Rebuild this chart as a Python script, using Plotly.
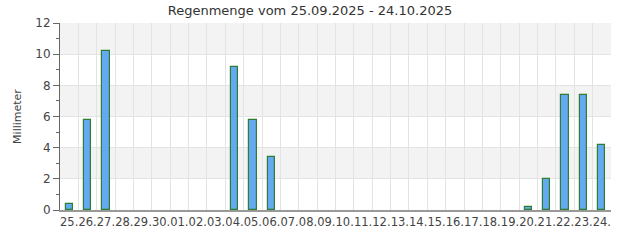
import plotly.graph_objects as go

days = ["25.", "26.", "27.", "28.", "29.", "30.", "01.", "02.", "03.", "04.",
        "05.", "06.", "07.", "08.", "09.", "10.", "11.", "12.", "13.", "14.",
        "15.", "16.", "17.", "18.", "19.", "20.", "21.", "22.", "23.", "24."]
rain_mm = [0.4, 5.8, 10.2, 0, 0, 0, 0, 0, 0, 9.2,
           5.8, 3.4, 0, 0, 0, 0, 0, 0, 0, 0,
           0, 0, 0, 0, 0, 0.2, 2.0, 7.4, 7.4, 4.2]
y_ticks = [0, 2, 4, 6, 8, 10, 12]
title_text = "Regenmenge vom 25.09.2025 - 24.10.2025"
y_title = "Millimeter"

FONT = "DejaVu Sans"

# zero-rain days draw no bar at all
bar_values = [v if v > 0 else None for v in rain_mm]

fig = go.Figure()
fig.add_trace(go.Bar(
    x=days, y=bar_values, width=0.4,
    marker=dict(color="#64aaf2", line=dict(color="#2e7d32", width=1.2)),
    hoverinfo="x+y", showlegend=False,
))

# alternating horizontal bands
shapes = []
for i in range(len(y_ticks) - 1):
    if i % 2 == 1:
        shapes.append(dict(type="rect", xref="paper", yref="y", x0=0, x1=1,
                           y0=y_ticks[i], y1=y_ticks[i + 1],
                           fillcolor="#f3f3f3", line=dict(width=0), layer="below"))

fig.update_layout(
    width=620, height=250,
    margin=dict(l=60, r=9, t=23, b=40),
    paper_bgcolor="white", plot_bgcolor="white",
    font=dict(family=FONT, size=12, color="#444"),
    title=dict(text=title_text, x=0.5, xanchor="center", y=0.96, yanchor="middle",
               font=dict(family=FONT, size=13, color="#333")),
    shapes=shapes,
    bargap=0,
    xaxis=dict(
        type="category", tickson="boundaries", showgrid=True, gridcolor="#e3e3e3",
        gridwidth=1, ticks="outside", ticklen=3, tickcolor="rgba(0,0,0,0)",
        showline=True, linecolor="#999", linewidth=1.5,
        tickangle=0, tickfont=dict(size=11.5, color="#444"), fixedrange=True,
    ),
    yaxis=dict(
        range=[0, 12], tickvals=y_ticks, showgrid=True, gridcolor="#e3e3e3",
        zeroline=False, showline=True, linecolor="#666", linewidth=1,
        ticks="outside", ticklen=6, tickcolor="#666",
        minor=dict(dtick=1, ticks="outside", ticklen=3, tickcolor="#666", showgrid=False),
        title=dict(text=y_title, font=dict(size=11, color="#444"), standoff=11),
        tickfont=dict(size=12, color="#444"), fixedrange=True,
    ),
)

fig.write_html("out.html")
